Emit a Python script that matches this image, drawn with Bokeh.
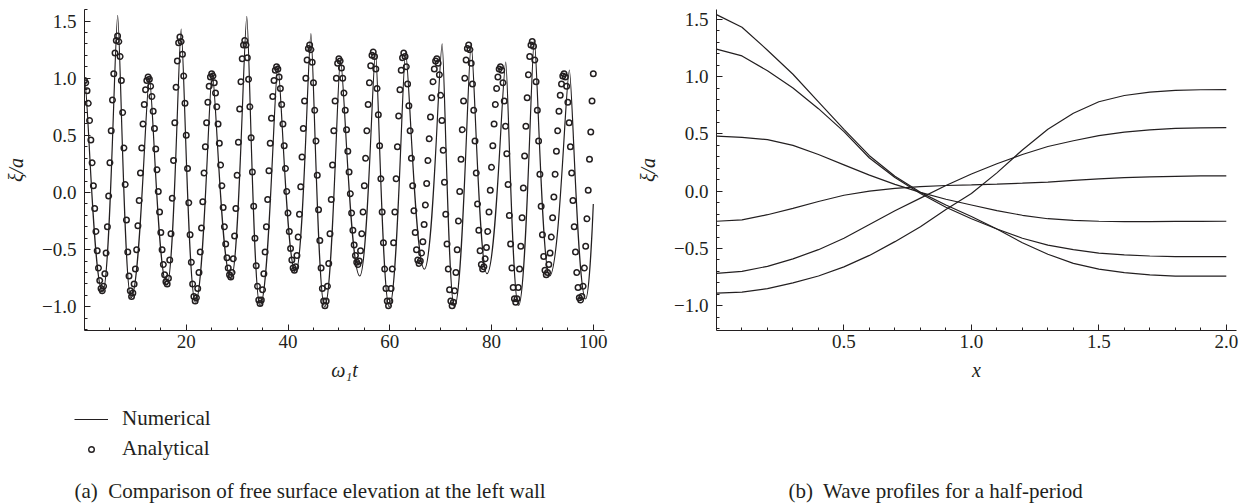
import numpy as np
from bokeh.plotting import figure
from bokeh.models import (FixedTicker, CustomJSTickFormatter, Label, Legend,
                          LegendItem, Range1d)
from bokeh.layouts import row, column
from bokeh.embed import file_html
from bokeh.resources import INLINE

# ---------------- data : panel (a) ----------------
# Numerical solution: successive extremes (time, value)
numerical_t = [0.0, 3.57, 6.52, 9.14, 12.75, 16.2, 19.0, 21.8, 25.1, 28.8, 31.9,
               34.5, 38.0, 41.5, 44.5, 47.2, 50.3, 54.1, 57.2, 59.9, 63.1, 66.8,
               70.3, 72.7, 76.0, 79.1, 82.8, 85.3, 88.4, 91.4, 95.3, 98.5, 100.0]
numerical_xi = [1.0, -0.87, 1.55, -0.92, 1.01, -0.81, 1.43, -0.96, 1.05, -0.755, 1.54,
                -0.99, 1.11, -0.70, 1.39, -1.0, 1.17, -0.73, 1.23, -1.0, 1.23, -0.67,
                1.30, -1.0, 1.30, -0.71, 1.14, -0.99, 1.34, -0.73, 1.07, -0.93, -0.10]

# Analytical solution: samples every 0.25 time units
analytical_dt = 0.25
analytical_xi = [
    0.98, 0.96, 0.89, 0.78, 0.63, 0.46, 0.26, 0.06, -0.14, -0.34, -0.51, -0.66, -0.77, -0.84, -0.86,
    -0.82, -0.71, -0.53, -0.30, -0.03, 0.26, 0.54, 0.81, 1.04, 1.22, 1.33, 1.37,
    1.32, 1.19, 0.98, 0.70, 0.39, 0.07, -0.24, -0.52, -0.73, -0.86, -0.91,
    -0.88, -0.80, -0.67, -0.50, -0.29, -0.07, 0.17, 0.39, 0.60, 0.77, 0.90, 0.98, 1.01,
    0.99, 0.93, 0.84, 0.71, 0.56, 0.38, 0.20, 0.01, -0.17, -0.35, -0.50, -0.63, -0.72, -0.78, -0.80,
    -0.75, -0.59, -0.36, -0.05, 0.28, 0.61, 0.92, 1.15, 1.31, 1.36,
    1.32, 1.21, 1.02, 0.78, 0.50, 0.21, -0.09, -0.37, -0.61, -0.80, -0.91, -0.95,
    -0.92, -0.84, -0.70, -0.52, -0.31, -0.08, 0.17, 0.40, 0.61, 0.79, 0.93, 1.01, 1.04,
    1.02, 0.96, 0.87, 0.75, 0.60, 0.43, 0.24, 0.06, -0.13, -0.30, -0.45, -0.57, -0.66, -0.72, -0.74,
    -0.70, -0.58, -0.38, -0.14, 0.15, 0.44, 0.73, 0.97, 1.17, 1.29, 1.33,
    1.29, 1.18, 0.99, 0.75, 0.48, 0.18, -0.12, -0.40, -0.64, -0.82, -0.94, -0.97,
    -0.94, -0.85, -0.71, -0.52, -0.30, -0.06, 0.19, 0.43, 0.65, 0.84, 0.98, 1.07, 1.10,
    1.08, 1.01, 0.91, 0.77, 0.60, 0.41, 0.21, 0.01, -0.18, -0.34, -0.49, -0.59, -0.66, -0.68,
    -0.65, -0.55, -0.39, -0.19, 0.05, 0.31, 0.56, 0.80, 1.00, 1.16, 1.26, 1.29,
    1.25, 1.14, 0.96, 0.72, 0.45, 0.15, -0.15, -0.42, -0.66, -0.84, -0.95, -0.99,
    -0.95, -0.82, -0.62, -0.36, -0.06, 0.24, 0.54, 0.80, 1.00, 1.13, 1.17,
    1.15, 1.09, 1.00, 0.87, 0.72, 0.55, 0.36, 0.18, -0.01, -0.18, -0.33, -0.46, -0.55, -0.61, -0.63,
    -0.60, -0.51, -0.36, -0.17, 0.06, 0.30, 0.54, 0.77, 0.96, 1.11, 1.20, 1.23,
    1.19, 1.08, 0.91, 0.68, 0.41, 0.12, -0.17, -0.44, -0.67, -0.84, -0.95, -0.99,
    -0.95, -0.84, -0.67, -0.44, -0.17, 0.12, 0.40, 0.67, 0.90, 1.07, 1.18, 1.22,
    1.19, 1.10, 0.95, 0.76, 0.54, 0.30, 0.06, -0.16, -0.35, -0.50, -0.59, -0.62,
    -0.60, -0.53, -0.43, -0.28, -0.11, 0.08, 0.28, 0.47, 0.66, 0.83, 0.97, 1.08, 1.15, 1.17,
    1.13, 1.03, 0.85, 0.63, 0.37, 0.09, -0.19, -0.45, -0.67, -0.85, -0.95, -0.99,
    -0.96, -0.86, -0.70, -0.50, -0.25, 0.01, 0.29, 0.55, 0.80, 1.00, 1.16, 1.26, 1.29,
    1.25, 1.13, 0.95, 0.72, 0.45, 0.17, -0.10, -0.33, -0.51, -0.63, -0.67,
    -0.65, -0.58, -0.48, -0.34, -0.17, 0.02, 0.22, 0.41, 0.60, 0.77, 0.91, 1.01, 1.08, 1.10,
    1.07, 0.96, 0.80, 0.58, 0.34, 0.07, -0.20, -0.45, -0.66, -0.83, -0.93, -0.96,
    -0.93, -0.83, -0.67, -0.47, -0.22, 0.04, 0.32, 0.58, 0.83, 1.03, 1.19, 1.29, 1.32,
    1.28, 1.16, 0.97, 0.72, 0.45, 0.16, -0.12, -0.37, -0.56, -0.68, -0.72,
    -0.70, -0.63, -0.53, -0.39, -0.22, -0.04, 0.16, 0.36, 0.54, 0.71, 0.85, 0.95, 1.02, 1.04,
    1.01, 0.93, 0.79, 0.61, 0.40, 0.17, -0.07, -0.30, -0.52, -0.70, -0.83, -0.92, -0.94,
    -0.91, -0.82, -0.66, -0.47, -0.23, 0.02, 0.29, 0.53, 0.80, 1.04,
]
analytical_t = [i * analytical_dt for i in range(len(analytical_xi))]

# ---------------- data : panel (b) ----------------
profile_x = [0.0, 0.1, 0.2, 0.3, 0.4, 0.5, 0.6, 0.7, 0.8, 0.9, 1.0,
             1.1, 1.2, 1.3, 1.4, 1.5, 1.6, 1.7, 1.8, 1.9, 2.0]
profile_1 = [1.54, 1.43, 1.23, 1.02, 0.78, 0.54, 0.31, 0.13, -0.01, -0.12, -0.22,
             -0.33, -0.45, -0.55, -0.63, -0.68, -0.71, -0.73, -0.74, -0.74, -0.74]
profile_2 = [1.24, 1.18, 1.05, 0.90, 0.72, 0.52, 0.29, 0.12, -0.02, -0.14, -0.24,
             -0.33, -0.41, -0.47, -0.51, -0.54, -0.555, -0.565, -0.57, -0.57, -0.57]
profile_3 = [0.48, 0.47, 0.45, 0.40, 0.32, 0.23, 0.14, 0.06, -0.01, -0.07, -0.12,
             -0.17, -0.21, -0.24, -0.255, -0.262, -0.265, -0.265, -0.264, -0.263, -0.262]
profile_4 = [-0.262, -0.25, -0.205, -0.15, -0.09, -0.035, 0.0, 0.025, 0.04, 0.05, 0.055,
             0.062, 0.07, 0.08, 0.095, 0.108, 0.118, 0.125, 0.13, 0.133, 0.134]
profile_5 = [-0.717, -0.70, -0.655, -0.59, -0.51, -0.41, -0.29, -0.17, -0.06, 0.05, 0.15,
             0.24, 0.32, 0.39, 0.44, 0.485, 0.515, 0.535, 0.548, 0.553, 0.554]
profile_6 = [-0.889, -0.88, -0.85, -0.80, -0.74, -0.66, -0.56, -0.44, -0.31, -0.16, -0.02,
             0.16, 0.36, 0.54, 0.68, 0.78, 0.835, 0.865, 0.88, 0.885, 0.886]
profiles = [profile_1, profile_2, profile_3, profile_4, profile_5, profile_6]

# tick labels
a_xticks = [20, 40, 60, 80, 100]
b_xticks = [0.5, 1.0, 1.5, 2.0]
yticks = [-1.0, -0.5, 0.0, 0.5, 1.0, 1.5]

# ---------------- styling ----------------
INK = "#231f20"
SERIF = "Liberation Serif"
TOP_H = 392


def style(p, xt, xminor, xfmt, xlabel):
    p.xgrid.visible = False
    p.ygrid.visible = False
    p.outline_line_color = None
    p.background_fill_color = "white"
    p.border_fill_color = "white"
    p.xaxis.ticker = FixedTicker(ticks=xt, minor_ticks=xminor)
    ymin = [round(-1.2 + 0.1 * i, 1) for i in range(29)]
    p.yaxis.ticker = FixedTicker(ticks=yticks, minor_ticks=ymin)
    p.xaxis.formatter = CustomJSTickFormatter(code=xfmt)
    p.yaxis.formatter = CustomJSTickFormatter(
        code="return (tick < 0 ? '\u2212' : '') + Math.abs(tick).toFixed(1);")
    for ax in (p.xaxis[0], p.yaxis[0]):
        ax.axis_line_color = INK
        ax.axis_line_width = 1
        ax.major_tick_line_color = INK
        ax.minor_tick_line_color = INK
        ax.major_tick_in = 6
        ax.major_tick_out = 0
        ax.minor_tick_in = 3
        ax.minor_tick_out = 0
        ax.major_label_text_font = SERIF
        ax.major_label_text_font_size = "19px"
        ax.major_label_text_color = INK
        ax.axis_label_text_font = SERIF
        ax.axis_label_text_font_size = "20px"
        ax.axis_label_text_font_style = "italic"
        ax.axis_label_text_color = INK
    p.xaxis.major_label_standoff = 4
    p.yaxis.major_label_standoff = 8
    p.xaxis.axis_label_standoff = 8
    p.yaxis.axis_label_standoff = 12
    p.xaxis.axis_label = xlabel
    p.yaxis.axis_label = "\u03be/a"


# ---------------- panel (a) ----------------
pa = figure(width=634, height=TOP_H, output_backend="svg", toolbar_location=None,
            x_range=Range1d(0, 102.2), y_range=Range1d(-1.207, 1.601),
            min_border_left=84, min_border_right=30, min_border_top=9,
            min_border_bottom=TOP_H - 330)
a_minor = [v for v in range(5, 101, 5) if v % 20 != 0]
style(pa, a_xticks, a_minor, "return tick.toFixed(0);", "\u03c9\u2081t")

K_PEAK, K_TROUGH = 0.17, 0.5
n = len(numerical_t)
kk = []
for i in range(n):
    if i == n - 1:
        kk.append(0.0)
        continue
    nb = numerical_xi[i + 1] if i == 0 else numerical_xi[i - 1]
    kk.append(K_PEAK if numerical_xi[i] > nb else K_TROUGH)
x0 = np.array(numerical_t[:-1]); x1 = np.array(numerical_t[1:])
y0 = np.array(numerical_xi[:-1]); y1 = np.array(numerical_xi[1:])
k0 = np.array(kk[:-1]); k1 = np.array(kk[1:])
pa.bezier(x0=x0, y0=y0, x1=x1, y1=y1,
          cx0=x0 + k0 * (x1 - x0), cy0=y0,
          cx1=x1 - k1 * (x1 - x0), cy1=y1,
          line_color=INK, line_width=1.2)
pa.scatter(analytical_t, analytical_xi, marker="circle", size=5.5,
           line_color=INK, line_width=1.5, fill_color=None)

# ---------------- panel (b) ----------------
pb = figure(width=610, height=TOP_H, output_backend="svg", toolbar_location=None,
            x_range=Range1d(0, 2.04), y_range=Range1d(-1.215, 1.585),
            min_border_left=80, min_border_right=8, min_border_top=9,
            min_border_bottom=TOP_H - 330)
b_minor = [round(0.1 * i, 1) for i in range(1, 20) if i % 5 != 0]
style(pb, b_xticks, b_minor, "return tick.toFixed(1);", "x")
for prof in profiles:
    pb.line(profile_x, prof, line_color=INK, line_width=1.2)

# ---------------- legend and captions strip ----------------
BOT_H = 504 - TOP_H
pc = figure(width=1244, height=BOT_H, output_backend="svg", toolbar_location=None,
            x_range=Range1d(0, 1244), y_range=Range1d(0, BOT_H),
            x_axis_type=None, y_axis_type=None,
            min_border_left=0, min_border_right=0, min_border_top=0,
            min_border_bottom=0)
pc.xgrid.visible = False
pc.ygrid.visible = False
pc.outline_line_color = None
# legend samples only: renderers hold a single undefined (NaN) point, nothing is drawn
nan = float("nan")
leg_line = pc.line([nan], [nan], line_color=INK, line_width=1.2)
leg_circ = pc.scatter([nan], [nan], marker="circle", size=5.5, line_color=INK,
                      line_width=1.4, fill_color=None)
legend = Legend(items=[LegendItem(label="Numerical", renderers=[leg_line]),
                       LegendItem(label="Analytical", renderers=[leg_circ])],
                location=(74, BOT_H - 69), orientation="vertical",
                background_fill_alpha=0, border_line_color=None,
                padding=0, margin=0, spacing=5, glyph_width=34, glyph_height=14,
                label_height=20, label_standoff=14, label_text_font=SERIF,
                label_text_font_size="21px", label_text_color=INK)
pc.add_layout(legend)
pc.add_layout(Label(x=74, y=BOT_H - 98, x_units="screen", y_units="screen",
                    text="(a)\u00a0 Comparison of free surface elevation at the left wall",
                    text_font=SERIF, text_font_size="21px", text_color=INK,
                    text_baseline="middle", text_align="left"))
pc.add_layout(Label(x=788, y=BOT_H - 98, x_units="screen", y_units="screen",
                    text="(b)\u00a0 Wave profiles for a half-period",
                    text_font=SERIF, text_font_size="21px", text_color=INK,
                    text_baseline="middle", text_align="left"))

layout = column(row(pa, pb, spacing=0), pc, spacing=0)
open("out.html", "w").write(file_html(layout, INLINE))
